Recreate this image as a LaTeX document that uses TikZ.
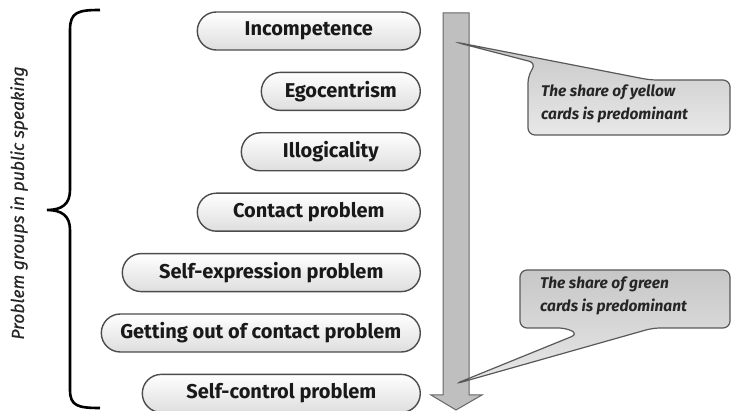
\documentclass[tikz,border=0pt]{standalone}
\usepackage{fontspec}
\setmainfont{Fira Sans}
\newfontfamily\grpfont[FakeBold=0.6]{Fira Sans}
\tikzstyle{pill}=[rectangle,rounded corners=19pt,draw=black!70,line width=1.4pt,
top color=white,bottom color=black!13,minimum height=38pt,inner sep=0pt,
text=black!90,font=\fontsize{20}{24}\selectfont\bfseries]
\tikzstyle{callout}=[draw=black!65,line width=1.2pt,rounded corners=7pt,
top color=black!22,bottom color=black!9]
\tikzstyle{note}=[anchor=north west,align=left,inner sep=0pt,
text=black!85,font=\fontsize{15.5}{23}\selectfont\bfseries\itshape]
\tikzstyle{flow}=[draw=black!60,fill=black!25,line width=1pt]
\usetikzlibrary{positioning}

\begin{document}
\begin{tikzpicture}[x=1pt,y=-1pt]
            \useasboundingbox (0,0) rectangle (732,411);

            % Problem groups PART

            \node[pill,minimum width=223pt,anchor=east] (inc) at (421,31) {Incompetence};
            \node[pill,minimum width=159pt,below=21pt of inc.south east,anchor=north east] (ego) {Egocentrism};
            \node[pill,minimum width=179pt,below=21pt of ego.south east,anchor=north east] (ill) {Illogicality};
            \node[pill,minimum width=223pt,below=21pt of ill.south east,anchor=north east] (con) {Contact problem};
            \node[pill,minimum width=298pt,below=21pt of con.south east,anchor=north east] (sex) {Self-expression problem};
            \node[pill,minimum width=319pt,below=21pt of sex.south east,anchor=north east] (gout) {Getting out of contact problem};
            \node[pill,minimum width=278pt,below=21pt of gout.south east,anchor=north east] (sco) {Self-control problem};

            % Brace PART

            \draw[line width=2.6pt] (100,10) .. controls (78,10) and (70,12) .. (70,30) -- (70,190)
                .. controls (70,204) and (62,210) .. (47,210) .. controls (62,210) and (70,216) .. (70,230)
                -- (70,390) .. controls (70,406) and (78,408) .. (100,408);
            \node[rotate=90,text=black!85,font=\fontsize{17.5}{20}\grpfont\itshape] (grp) at (19,203) {Problem groups in public speaking};

            % Arrow PART

            \draw[flow] (443,13) -- (469,13) -- (469,395) -- (482,395) -- (456,410) -- (431,395) -- (443,395) -- cycle;
            \coordinate (tipY) at (455,42);
            \coordinate (tipG) at (455,384);

            % Callouts PART

            \draw[callout] (tipY) -- (650,80) -- (730,80) -- (730,135) -- (528,135) -- (528,76) -- (536,63) -- cycle;
            \node[note] (yel) at (541,85) {The share of yellow\\cards is predominant};

            \draw[callout] (520,270) -- (730,270) -- (730,328) -- (653,328) -- (tipG) -- (578,334) -- (566,328) -- (520,328) -- cycle;
            \node[note] (grn) at (540,277) {The share of green\\cards is predominant};

        \end{tikzpicture}
\end{document}
